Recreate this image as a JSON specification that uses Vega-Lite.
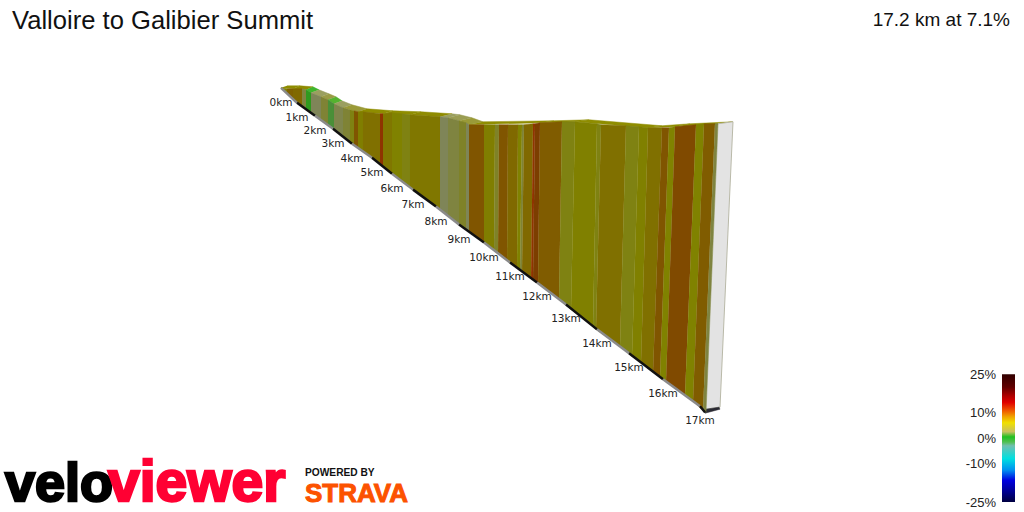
{
  "$schema": "https://vega.github.io/schema/vega-lite/v6.json",
  "width": 1024,
  "height": 512,
  "autosize": {"type": "fit", "contains": "padding"},
  "padding": 0,
  "background": "white",
  "view": {"stroke": null},
  "datasets": {
    "tops": [
      {"b": 1, "g": 5.5, "o": [0,1,2,3], "px": [281,293,300,287], "py": [88,89,86,86]},
      {"b": 2, "g": 6, "o": [0,1,2,3], "px": [293,306,313,300], "py": [89,90,87,86]},
      {"b": 3, "g": 0.5, "o": [0,1,2,3], "px": [306,311,319,313], "py": [90,93,90,87]},
      {"b": 4, "g": 3, "o": [0,1,2,3], "px": [311,321,329,319], "py": [93,97,94,90]},
      {"b": 5, "g": 4, "o": [0,1,2,3], "px": [321,328,336,329], "py": [97,100,97,94]},
      {"b": 6, "g": 0.8, "o": [0,1,2,3], "px": [328,334,342,336], "py": [100,104,101,97]},
      {"b": 7, "g": 3, "o": [0,1,2,3], "px": [334,343,352,342], "py": [104,108,105,101]},
      {"b": 8, "g": 4.5, "o": [0,1,2,3], "px": [343,358,367,352], "py": [108,112,109,105]},
      {"b": 9, "g": 5.5, "o": [0,1,2,3], "px": [358,383,393,367], "py": [112,114,111,109]},
      {"b": 10, "g": 5.5, "o": [0,1,2,3], "px": [383,410,421,393], "py": [114,115,112,111]},
      {"b": 11, "g": 6, "o": [0,1,2,3], "px": [410,440,452,421], "py": [115,117,114,112]},
      {"b": 12, "g": 3, "o": [0,1,2,3], "px": [440,448,460,452], "py": [117,118,115,114]},
      {"b": 13, "g": 3.5, "o": [0,1,2,3], "px": [448,459,472,460], "py": [118,121,118,115]},
      {"b": 14, "g": 4.5, "o": [0,1,2,3], "px": [459,469,483,472], "py": [121,125,122,118]},
      {"b": 15, "g": 5.5, "o": [0,1,2,3], "px": [469,540,554,483], "py": [125,123,121,122]},
      {"b": 16, "g": 5.5, "o": [0,1,2,3], "px": [540,575,589,554], "py": [123,122,120,121]},
      {"b": 17, "g": 5.5, "o": [0,1,2,3], "px": [575,648,662,589], "py": [122,128,126,120]},
      {"b": 18, "g": 5.5, "o": [0,1,2,3], "px": [648,675,690,662], "py": [128,127,124,126]},
      {"b": 19, "g": 5.5, "o": [0,1,2,3], "px": [675,718,733,690], "py": [127,124,122,124]}
    ],
    "walls": [
      {"b": 1, "g": 5.5, "o": [0,1,2,3], "px": [281,287,287,281], "py": [88,89,94,88]},
      {"b": 2, "g": 8, "o": [0,1,2,3], "px": [287,293,293,287], "py": [89,89,99,94]},
      {"b": 3, "g": 7.5, "o": [0,1,2,3], "px": [293,302,302,293], "py": [89,89,107,99]},
      {"b": 4, "g": 3.5, "o": [0,1,2,3], "px": [302,306,306,302], "py": [89,90,110,107]},
      {"b": 5, "g": 0.5, "o": [0,1,2,3], "px": [306,311,311,306], "py": [90,93,113,110]},
      {"b": 6, "g": 2.5, "o": [0,1,2,3], "px": [311,321,321,311], "py": [93,97,120,113]},
      {"b": 7, "g": 4, "o": [0,1,2,3], "px": [321,328,328,321], "py": [97,100,125,120]},
      {"b": 8, "g": 0.8, "o": [0,1,2,3], "px": [328,334,334,328], "py": [100,104,130,125]},
      {"b": 9, "g": 3, "o": [0,1,2,3], "px": [334,343,343,334], "py": [104,108,137,130]},
      {"b": 10, "g": 4, "o": [0,1,2,3], "px": [343,350,350,343], "py": [108,110,142,137]},
      {"b": 11, "g": 5, "o": [0,1,2,3], "px": [350,354,354,350], "py": [110,111,145,142]},
      {"b": 12, "g": 9, "o": [0,1,2,3], "px": [354,358,358,354], "py": [111,112,148,145]},
      {"b": 13, "g": 6, "o": [0,1,2,3], "px": [358,363,363,358], "py": [112,112,152,148]},
      {"b": 14, "g": 7, "o": [0,1,2,3], "px": [363,372,372,363], "py": [112,113,158,152]},
      {"b": 15, "g": 7, "o": [0,1,2,3], "px": [372,380,380,372], "py": [113,114,164,158]},
      {"b": 16, "g": 14, "o": [0,1,2,3], "px": [380,383,383,380], "py": [114,114,167,164]},
      {"b": 17, "g": 6.5, "o": [0,1,2,3], "px": [383,392,392,383], "py": [114,113,174,167]},
      {"b": 18, "g": 5.5, "o": [0,1,2,3], "px": [392,402,402,392], "py": [113,114,182,174]},
      {"b": 19, "g": 5, "o": [0,1,2,3], "px": [402,410,410,402], "py": [114,115,188,182]},
      {"b": 20, "g": 6.5, "o": [0,1,2,3], "px": [410,440,440,410], "py": [115,117,210,188]},
      {"b": 21, "g": 2.5, "o": [0,1,2,3], "px": [440,448,448,440], "py": [117,118,216,210]},
      {"b": 22, "g": 3.5, "o": [0,1,2,3], "px": [448,459,459,448], "py": [118,121,225,216]},
      {"b": 23, "g": 4.5, "o": [0,1,2,3], "px": [459,466,466,459], "py": [121,123,230,225]},
      {"b": 24, "g": 2.5, "o": [0,1,2,3], "px": [466,469,469,466], "py": [123,125,232,230]},
      {"b": 25, "g": 9, "o": [0,1,2,3], "px": [469,484,484,469], "py": [125,125,243,232]},
      {"b": 26, "g": 6, "o": [0,1,2,3], "px": [484,495,494,484], "py": [125,125,251,243]},
      {"b": 27, "g": 4.5, "o": [0,1,2,3], "px": [495,499,498,494], "py": [125,125,254,251]},
      {"b": 28, "g": 9, "o": [0,1,2,3], "px": [499,508,507,498], "py": [125,125,261,254]},
      {"b": 29, "g": 7.5, "o": [0,1,2,3], "px": [508,518,517,507], "py": [125,125,268,261]},
      {"b": 30, "g": 5.5, "o": [0,1,2,3], "px": [518,522,520,517], "py": [125,125,271,268]},
      {"b": 31, "g": 4, "o": [0,1,2,3], "px": [522,524,522,520], "py": [125,125,272,271]},
      {"b": 32, "g": 7.5, "o": [0,1,2,3], "px": [524,533,531,522], "py": [125,124,279,272]},
      {"b": 33, "g": 14, "o": [0,1,2,3], "px": [533,535,533,531], "py": [124,124,280,279]},
      {"b": 34, "g": 10.5, "o": [0,1,2,3], "px": [535,540,538,533], "py": [124,123,284,280]},
      {"b": 35, "g": 8.5, "o": [0,1,2,3], "px": [540,562,559,538], "py": [123,122,300,284]},
      {"b": 36, "g": 5, "o": [0,1,2,3], "px": [562,575,571,559], "py": [122,122,310,300]},
      {"b": 37, "g": 5.8, "o": [0,1,2,3], "px": [575,597,593,571], "py": [122,124,327,310]},
      {"b": 38, "g": 5, "o": [0,1,2,3], "px": [597,601,596,593], "py": [124,125,330,327]},
      {"b": 39, "g": 7, "o": [0,1,2,3], "px": [601,626,620,596], "py": [125,126,347,330]},
      {"b": 40, "g": 5, "o": [0,1,2,3], "px": [626,639,632,620], "py": [126,127,357,347]},
      {"b": 41, "g": 5.8, "o": [0,1,2,3], "px": [639,648,641,632], "py": [127,128,363,357]},
      {"b": 42, "g": 7, "o": [0,1,2,3], "px": [648,662,653,641], "py": [128,128,373,363]},
      {"b": 43, "g": 9, "o": [0,1,2,3], "px": [662,669,660,653], "py": [128,128,378,373]},
      {"b": 44, "g": 5.5, "o": [0,1,2,3], "px": [669,675,666,660], "py": [128,127,382,378]},
      {"b": 45, "g": 10, "o": [0,1,2,3], "px": [675,696,685,666], "py": [127,125,396,382]},
      {"b": 46, "g": 5.5, "o": [0,1,2,3], "px": [696,704,693,685], "py": [125,124,402,396]},
      {"b": 47, "g": 8.5, "o": [0,1,2,3], "px": [704,715,703,693], "py": [124,124,411,402]},
      {"b": 48, "g": 3.5, "o": [0,1,2,3], "px": [715,718,706,703], "py": [124,124,413,411]}
    ],
    "km": [
      {"km": "0km", "stripe": "light", "x": 281, "y": 88, "x2": 297, "y2": 103},
      {"km": "1km", "stripe": "dark", "x": 297, "y": 103, "x2": 315, "y2": 116},
      {"km": "2km", "stripe": "light", "x": 315, "y": 116, "x2": 333, "y2": 129},
      {"km": "3km", "stripe": "dark", "x": 333, "y": 129, "x2": 352, "y2": 144},
      {"km": "4km", "stripe": "light", "x": 352, "y": 144, "x2": 372, "y2": 158},
      {"km": "5km", "stripe": "dark", "x": 372, "y": 158, "x2": 392, "y2": 174},
      {"km": "6km", "stripe": "light", "x": 392, "y": 174, "x2": 413, "y2": 190},
      {"km": "7km", "stripe": "dark", "x": 413, "y": 190, "x2": 436, "y2": 207},
      {"km": "8km", "stripe": "light", "x": 436, "y": 207, "x2": 459, "y2": 225},
      {"km": "9km", "stripe": "dark", "x": 459, "y": 225, "x2": 484, "y2": 243},
      {"km": "10km", "stripe": "light", "x": 484, "y": 243, "x2": 510, "y2": 263},
      {"km": "11km", "stripe": "dark", "x": 510, "y": 263, "x2": 537, "y2": 283},
      {"km": "12km", "stripe": "light", "x": 537, "y": 283, "x2": 566, "y2": 305},
      {"km": "13km", "stripe": "dark", "x": 566, "y": 305, "x2": 597, "y2": 330},
      {"km": "14km", "stripe": "light", "x": 597, "y": 330, "x2": 629, "y2": 354},
      {"km": "15km", "stripe": "dark", "x": 629, "y": 354, "x2": 663, "y2": 380},
      {"km": "16km", "stripe": "light", "x": 663, "y": 380, "x2": 700, "y2": 407},
      {"km": "17km", "stripe": "dark", "x": 700, "y": 407, "x2": 705, "y2": 413}
    ]
  },
  "encoding": {
    "x": {"field": "x", "type": "quantitative", "axis": null, "scale": {"domain": [0, 1024], "nice": false, "zero": false}},
    "y": {"field": "y", "type": "quantitative", "axis": null, "scale": {"domain": [0, 512], "nice": false, "zero": false, "reverse": true}}
  },
  "layer": [
    {
      "data": {"name": "tops"},
      "transform": [{"flatten": ["o", "px", "py"], "as": ["o", "x", "y"]}],
      "mark": {"type": "line", "strokeWidth": 0.5},
      "encoding": {
        "detail": {"field": "b"},
        "order": {"field": "o"},
        "fill": {"field": "g", "type": "quantitative", "legend": null, "scale": {"domain": [0.5, 3, 4.5, 5.5, 6], "range": ["#3fb52c", "#9a9f60", "#9a9a38", "#8f8d00", "#8f8b00"]}},
        "stroke": {"field": "g", "type": "quantitative", "legend": null, "scale": {"domain": [0.5, 3, 4.5, 5.5, 6], "range": ["#3fb52c", "#9a9f60", "#9a9a38", "#8f8d00", "#8f8b00"]}}
      }
    },
    {
      "data": {"values": [{"o": [0,1,2,3], "px": [718,733,720,706], "py": [124,122,408,410]}]},
      "transform": [{"flatten": ["o", "px", "py"], "as": ["o", "x", "y"]}],
      "mark": {"type": "line", "fill": "#e3e3e3", "stroke": "#b9b9a8", "strokeWidth": 1},
      "encoding": {"order": {"field": "o"}}
    },
    {
      "data": {"values": [{"o": [0,1,2,3,4], "px": [700,705,720,719,706], "py": [407,414,410,408,410]}]},
      "transform": [{"flatten": ["o", "px", "py"], "as": ["o", "x", "y"]}],
      "mark": {"type": "line", "fill": "#2a2a33", "stroke": "#2a2a33", "strokeWidth": 0.5},
      "encoding": {"order": {"field": "o"}}
    },
    {
      "data": {"name": "walls"},
      "transform": [{"flatten": ["o", "px", "py"], "as": ["o", "x", "y"]}],
      "mark": {"type": "line", "strokeWidth": 0.5},
      "encoding": {
        "detail": {"field": "b"},
        "order": {"field": "o"},
        "fill": {"field": "g", "type": "quantitative", "legend": null, "scale": {"domain": [0.5, 0.8, 2.5, 3.5, 4.5, 5, 5.5, 6, 7, 8, 9, 10, 10.5, 14], "range": ["#2f9a1e", "#4a8f38", "#7f8558", "#7f8440", "#7f8228", "#7f8212", "#808200", "#807e00", "#807000", "#806200", "#805500", "#804a00", "#7c3e00", "#8f3400"]}},
        "stroke": {"field": "g", "type": "quantitative", "legend": null, "scale": {"domain": [0.5, 0.8, 2.5, 3.5, 4.5, 5, 5.5, 6, 7, 8, 9, 10, 10.5, 14], "range": ["#2f9a1e", "#4a8f38", "#7f8558", "#7f8440", "#7f8228", "#7f8212", "#808200", "#807e00", "#807000", "#806200", "#805500", "#804a00", "#7c3e00", "#8f3400"]}}
      }
    },
    {
      "data": {"name": "km"},
      "mark": {"type": "rule", "strokeWidth": 2.5},
      "encoding": {
        "x2": {"field": "x2"},
        "y2": {"field": "y2"},
        "color": {"field": "stripe", "type": "nominal", "legend": null, "scale": {"domain": ["light", "dark"], "range": ["#8a8a8a", "#111111"]}}
      }
    },
    {
      "data": {"name": "km"},
      "mark": {"type": "text", "font": "DejaVu Sans", "fontSize": 10.5, "dy": 15, "align": "center", "baseline": "middle", "color": "#222222"},
      "encoding": {"text": {"field": "km"}}
    },
    {
      "data": {"values": [{"x": 1002, "y": 375, "x2": 1015, "y2": 503}]},
      "mark": {"type": "rect", "color": {"x1": 0, "y1": 0, "x2": 0, "y2": 1, "gradient": "linear", "stops": [
        {"offset": 0, "color": "#300000"},
        {"offset": 0.1, "color": "#600000"},
        {"offset": 0.17, "color": "#b00000"},
        {"offset": 0.22, "color": "#e00000"},
        {"offset": 0.29, "color": "#f06000"},
        {"offset": 0.33, "color": "#f0a000"},
        {"offset": 0.38, "color": "#f0e000"},
        {"offset": 0.45, "color": "#c8c060"},
        {"offset": 0.49, "color": "#20c020"},
        {"offset": 0.53, "color": "#50c050"},
        {"offset": 0.56, "color": "#70c0b0"},
        {"offset": 0.66, "color": "#00e0e0"},
        {"offset": 0.75, "color": "#0090f0"},
        {"offset": 0.83, "color": "#0000e0"},
        {"offset": 0.92, "color": "#000090"},
        {"offset": 1, "color": "#000040"}
      ]}},
      "encoding": {"x2": {"field": "x2"}, "y2": {"field": "y2"}}
    },
    {
      "data": {"values": [
        {"x": 996, "y": 376, "label": "25%"},
        {"x": 996, "y": 414, "label": "10%"},
        {"x": 996, "y": 440, "label": "0%"},
        {"x": 996, "y": 465, "label": "-10%"},
        {"x": 996, "y": 504, "label": "-25%"}
      ]},
      "mark": {"type": "text", "font": "Liberation Sans", "fontSize": 13, "align": "right", "baseline": "middle", "color": "#222222"},
      "encoding": {"text": {"field": "label"}}
    },
    {
      "data": {"values": [{"x": 12, "y": 29, "label": "Valloire to Galibier Summit"}]},
      "mark": {"type": "text", "font": "Liberation Sans", "fontSize": 25.6, "align": "left", "baseline": "alphabetic", "color": "#111111"},
      "encoding": {"text": {"field": "label"}}
    },
    {
      "data": {"values": [{"x": 1010, "y": 26, "label": "17.2 km at 7.1%"}]},
      "mark": {"type": "text", "font": "Liberation Sans", "fontSize": 19, "align": "right", "baseline": "alphabetic", "color": "#111111"},
      "encoding": {"text": {"field": "label"}}
    },
    {
      "data": {"values": [{"x": 5, "y": 502, "label": "velo"}]},
      "mark": {"type": "text", "font": "Liberation Sans", "fontWeight": "bold", "fontSize": 54, "align": "left", "baseline": "alphabetic", "color": "#000000", "stroke": "#000000", "strokeWidth": 2.5},
      "encoding": {"text": {"field": "label"}}
    },
    {
      "data": {"values": [{"x": 108, "y": 502, "label": "viewer"}]},
      "mark": {"type": "text", "font": "Liberation Sans", "fontWeight": "bold", "fontSize": 57, "align": "left", "baseline": "alphabetic", "color": "#ff0033", "stroke": "#ff0033", "strokeWidth": 2.5},
      "encoding": {"text": {"field": "label"}}
    },
    {
      "data": {"values": [{"x": 305, "y": 477, "label": "POWERED BY"}]},
      "mark": {"type": "text", "font": "Liberation Sans", "fontWeight": "bold", "fontSize": 10.2, "align": "left", "baseline": "alphabetic", "color": "#111111"},
      "encoding": {"text": {"field": "label"}}
    },
    {
      "data": {"values": [{"x": 305, "y": 503, "label": "STRAVA"}]},
      "mark": {"type": "text", "font": "Liberation Sans", "fontWeight": "bold", "fontSize": 26, "align": "left", "baseline": "alphabetic", "color": "#fc5200", "stroke": "#fc5200", "strokeWidth": 1},
      "encoding": {"text": {"field": "label"}}
    }
  ],
  "resolve": {"scale": {"fill": "independent", "stroke": "independent", "color": "independent"}}
}
